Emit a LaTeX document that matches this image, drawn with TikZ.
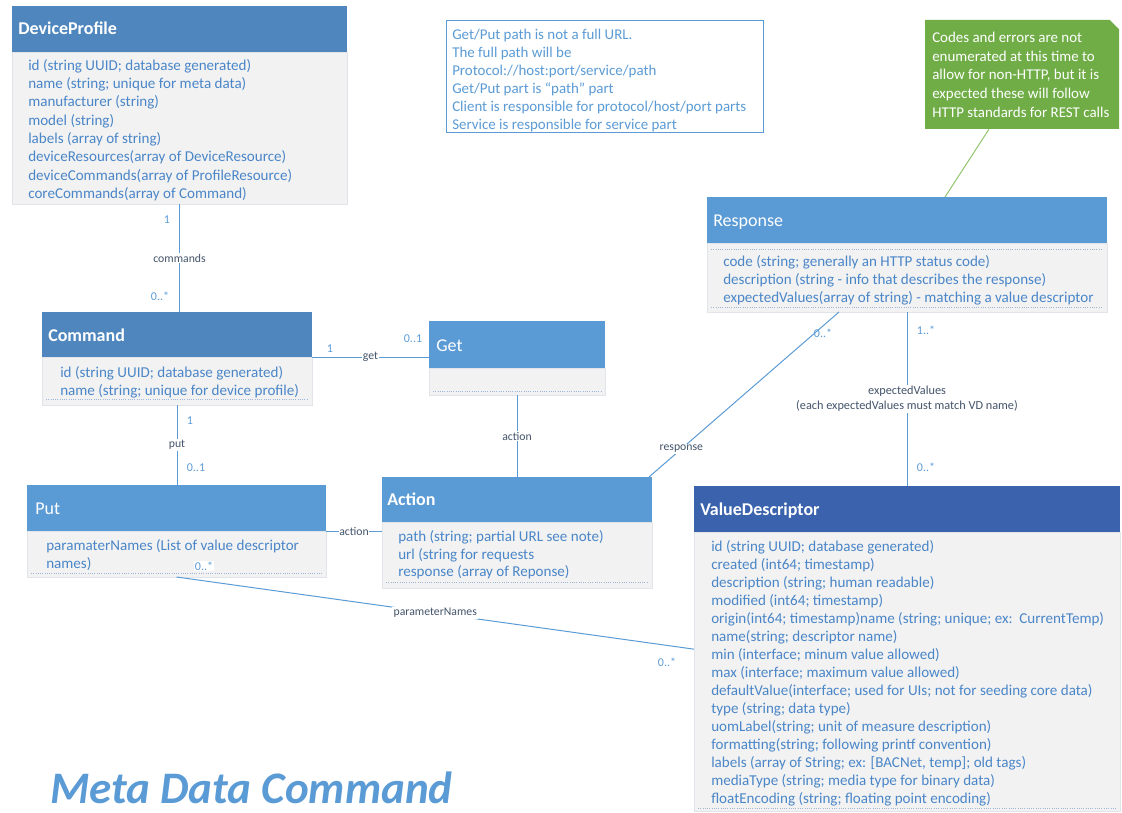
\documentclass[tikz,border=0pt]{standalone}
\usepackage{fontspec}
\setmainfont{Carlito}
\usetikzlibrary{fit,calc}

\definecolor{hdrA}{HTML}{4F86BD}
\definecolor{hdrB}{HTML}{5B9BD5}
\definecolor{hdrC}{HTML}{3A62AD}
\definecolor{bodyfill}{HTML}{F2F2F2}
\definecolor{bodyedge}{HTML}{E1E5EA}
\definecolor{attr}{HTML}{4A86C8}
\definecolor{wire}{HTML}{5B9BD5}
\definecolor{rolename}{HTML}{44546A}
\definecolor{sep}{HTML}{9DB5D8}
\definecolor{notegreen}{HTML}{70AD47}
\definecolor{noteline}{HTML}{92C46D}

\tikzset{
  hdr/.style={inner sep=0pt, outer sep=0pt, draw=none},
  bodybox/.style={inner sep=0pt, outer sep=0pt, fill=bodyfill, draw=bodyedge, line width=0.6pt},
  htitle/.style={anchor=base west, inner sep=0pt, text=white, font=\fontsize{13.5}{16}\selectfont},
  htitleb/.style={anchor=base west, inner sep=0pt, text=white, font=\fontsize{13.5}{16}\selectfont\bfseries},
  attrs/.style={anchor=north west, inner sep=0pt, align=left, text=attr, font=\fontsize{11.3}{13.5}\selectfont},
  notetext/.style={anchor=north west, inner sep=0pt, align=left, font=\fontsize{11.2}{13.5}\selectfont},
  sepline/.style={draw=sep, densely dotted, line width=0.7pt},
  conn/.style={draw=wire, line width=0.75pt},
  role/.style={fill=white, inner sep=1pt, text=rolename, font=\fontsize{8.8}{10}\selectfont},
  mult/.style={inner sep=0pt, text=wire, font=\fontsize{9}{10}\selectfont},
}

\begin{document}
\begin{tikzpicture}[x=0.75pt, y=-0.75pt]
\useasboundingbox (0,0) rectangle (1122,813);

% ---------- DeviceProfile ----------
\node[hdr, fill=hdrA, fit={(12,6)(347,52)}] (dpH) {};
\node[htitleb] (dpT) at (18,35) {DeviceProfile};
\node[bodybox, fit={(12,52)(347,204)}] (dpB) {};
\node[attrs, font=\fontsize{11.3}{13.75}\selectfont] (dpL) at (28,59) {id (string UUID; database generated)\\
name (string; unique for meta data)\\
manufacturer (string)\\
model (string)\\
labels (array of string)\\
deviceResources(array of DeviceResource)\\
deviceCommands(array of ProfileResource)\\
coreCommands(array of Command)};

% ---------- path note ----------
\node[draw=wire, line width=0.75pt, fill=white, inner sep=0pt, fit={(446,21)(763,133)}] (pathNote) {};
\node[notetext, text=wire] (pathTxt) at (452,29) {Get/Put path is not a full URL.\\
The full path will be\\
Protocol://host:port/service/path\\
Get/Put part is “path” part\\
Client is responsible for protocol/host/port parts\\
Service is responsible for service part};

% ---------- HTTP note (folded corner) ----------
\fill[notegreen] (925,20) -- (1110,20) -- (1119,29) -- (1119,129) -- (925,129) -- cycle;
\fill[white] (1110,20) -- (1119,29) -- (1119,20) -- cycle;
\node[inner sep=0pt, fit={(925,20)(1119,129)}] (httpNote) {};
\node[notetext, text=white, font=\fontsize{11.2}{14}\selectfont] (httpTxt) at (932,32) {Codes and errors are not\\
enumerated at this time to\\
allow for non-HTTP, but it is\\
expected these will follow\\
HTTP standards for REST calls};

% ---------- Response ----------
\node[hdr, fill=hdrB, fit={(707,197)(1107,243)}] (resH) {};
\node[htitle] (resT) at (713,227) {Response};
\node[bodybox, fit={(707,243)(1107,312)}] (resB) {};
\draw[sepline] (711,249) -- (1103,249);
\draw[sepline] (711,307) -- (1103,307);
\node[attrs] (resL) at (723,255.5) {code (string; generally an HTTP status code)\\
description (string - info that describes the response)\\
expectedValues(array of string) - matching a value descriptor};

% ---------- Command ----------
\node[hdr, fill=hdrA, fit={(42,312)(312,357)}] (cmdH) {};
\node[htitleb] (cmdT) at (48,341) {Command};
\node[bodybox, fit={(42,357)(312,405)}] (cmdB) {};
\draw[sepline] (46,399) -- (308,399);
\node[attrs] (cmdL) at (60,366.5) {id (string UUID; database generated)\\
name (string; unique for device profile)};

% ---------- Get ----------
\node[hdr, fill=hdrB, fit={(429,321)(605,368)}] (getH) {};
\node[htitle] (getT) at (436,351) {Get};
\node[bodybox, fit={(429,368)(605,395)}] (getB) {};
\draw[sepline] (433,391) -- (601,391);

% ---------- Put ----------
\node[hdr, fill=hdrB, fit={(27,485)(326,531)}] (putH) {};
\node[htitle] (putT) at (35,514) {Put};
\node[bodybox, fit={(27,531)(326,577)}] (putB) {};
\draw[sepline] (31,573) -- (322,573);
\node[attrs, font=\fontsize{11.3}{13}\selectfont] (putL) at (46,539.5) {paramaterNames (List of value descriptor\\
names)};

% ---------- Action ----------
\node[hdr, fill=hdrB, fit={(382,477)(652,522)}] (actH) {};
\node[htitleb] (actT) at (387,505) {Action};
\node[bodybox, fit={(382,522)(652,588)}] (actB) {};
\draw[sepline] (386,582) -- (648,582);
\node[attrs, font=\fontsize{11.3}{13.2}\selectfont] (actL) at (398,530.5) {path (string; partial URL see note)\\
url (string for requests\\
response (array of Reponse)};

% ---------- ValueDescriptor ----------
\node[hdr, fill=hdrC, fit={(694,486)(1120,532)}] (vdH) {};
\node[htitleb] (vdT) at (700,515) {ValueDescriptor};
\node[bodybox, fit={(694,532)(1120,811)}] (vdB) {};
\draw[sepline] (698,808) -- (1116,808);
\node[attrs] (vdL) at (711,540.5) {id (string UUID; database generated)\\
created (int64; timestamp)\\
description (string; human readable)\\
modified (int64; timestamp)\\
origin(int64; timestamp)name (string; unique; ex:\ \ CurrentTemp)\\
name(string; descriptor name)\\
min (interface; minum value allowed)\\
max (interface; maximum value allowed)\\
defaultValue(interface; used for UIs; not for seeding core data)\\
type (string; data type)\\
uomLabel(string; unit of measure description)\\
formatting(string; following printf convention)\\
labels (array of String; ex: [BACNet, temp]; old tags)\\
mediaType (string; media type for binary data)\\
floatEncoding (string; floating point encoding)};

% ---------- title ----------
\node[anchor=base west, inner sep=0pt, text depth=0pt, text=hdrB, font=\fontsize{33.8}{36}\selectfont\bfseries\itshape] (title) at (50,803) {Meta Data Command};

% ---------- associations ----------
\draw[conn] (dpB.south) -- (dpB.south |- cmdH.north) node[role, midway] (lCommands) {commands};
\node[mult] (mDp) at (167,220) {1};
\node[mult] (mCmdA) at (160,296) {0..*};

\draw[conn] (cmdH.south east) -- (cmdH.south east -| getH.west) node[role, midway] (lGet) {get};
\node[mult] (mCmdG) at (330,349) {1};
\node[mult] (mGet) at (413,339) {0..1};

\draw[conn] (cmdB.south) -- (cmdB.south |- putH.north) node[role, midway] (lPut) {put};
\node[mult] (mCmdP) at (190,421) {1};
\node[mult] (mPut) at (196,468) {0..1};

\draw[conn] (getB.south) -- (getB.south |- actH.north) node[role, midway] (lActG) {action};

\draw[conn] (putH.south east) -- (putH.south east -| actH.west) node[role, midway, inner sep=0.5pt] (lActP) {action};

\draw[conn] ($(actH.north east)+(-3,0)$) -- ($(resB.south west)!0.33!(resB.south east)$) node[role, pos=0.17] (lResp) {response};
\node[mult] (mResp) at (823,333) {0..*};

\draw[conn] (resB.south) -- (resB.south |- vdH.north) node[role, midway, align=center, font=\fontsize{9.2}{11.5}\selectfont] (lExp) {expectedValues\\(each expectedValues must match VD name)};
\node[mult] (mResE) at (926,330) {1..*};
\node[mult] (mVdE) at (926,467) {0..*};

\draw[conn] (putB.south) -- ($(vdB.north west)!0.42!(vdB.south west)$) node[role, midway] (lPn) {parameterNames};
\node[mult, fill=white, inner sep=0.5pt] (mPutPn) at (204,566) {0..*};
\node[mult] (mVdPn) at (667,662) {0..*};

\draw[draw=noteline, line width=0.75pt] ($(httpNote.south west)!0.33!(httpNote.south east)$) -- ($(resH.north west)!0.595!(resH.north east)$);
\end{tikzpicture}
\end{document}
